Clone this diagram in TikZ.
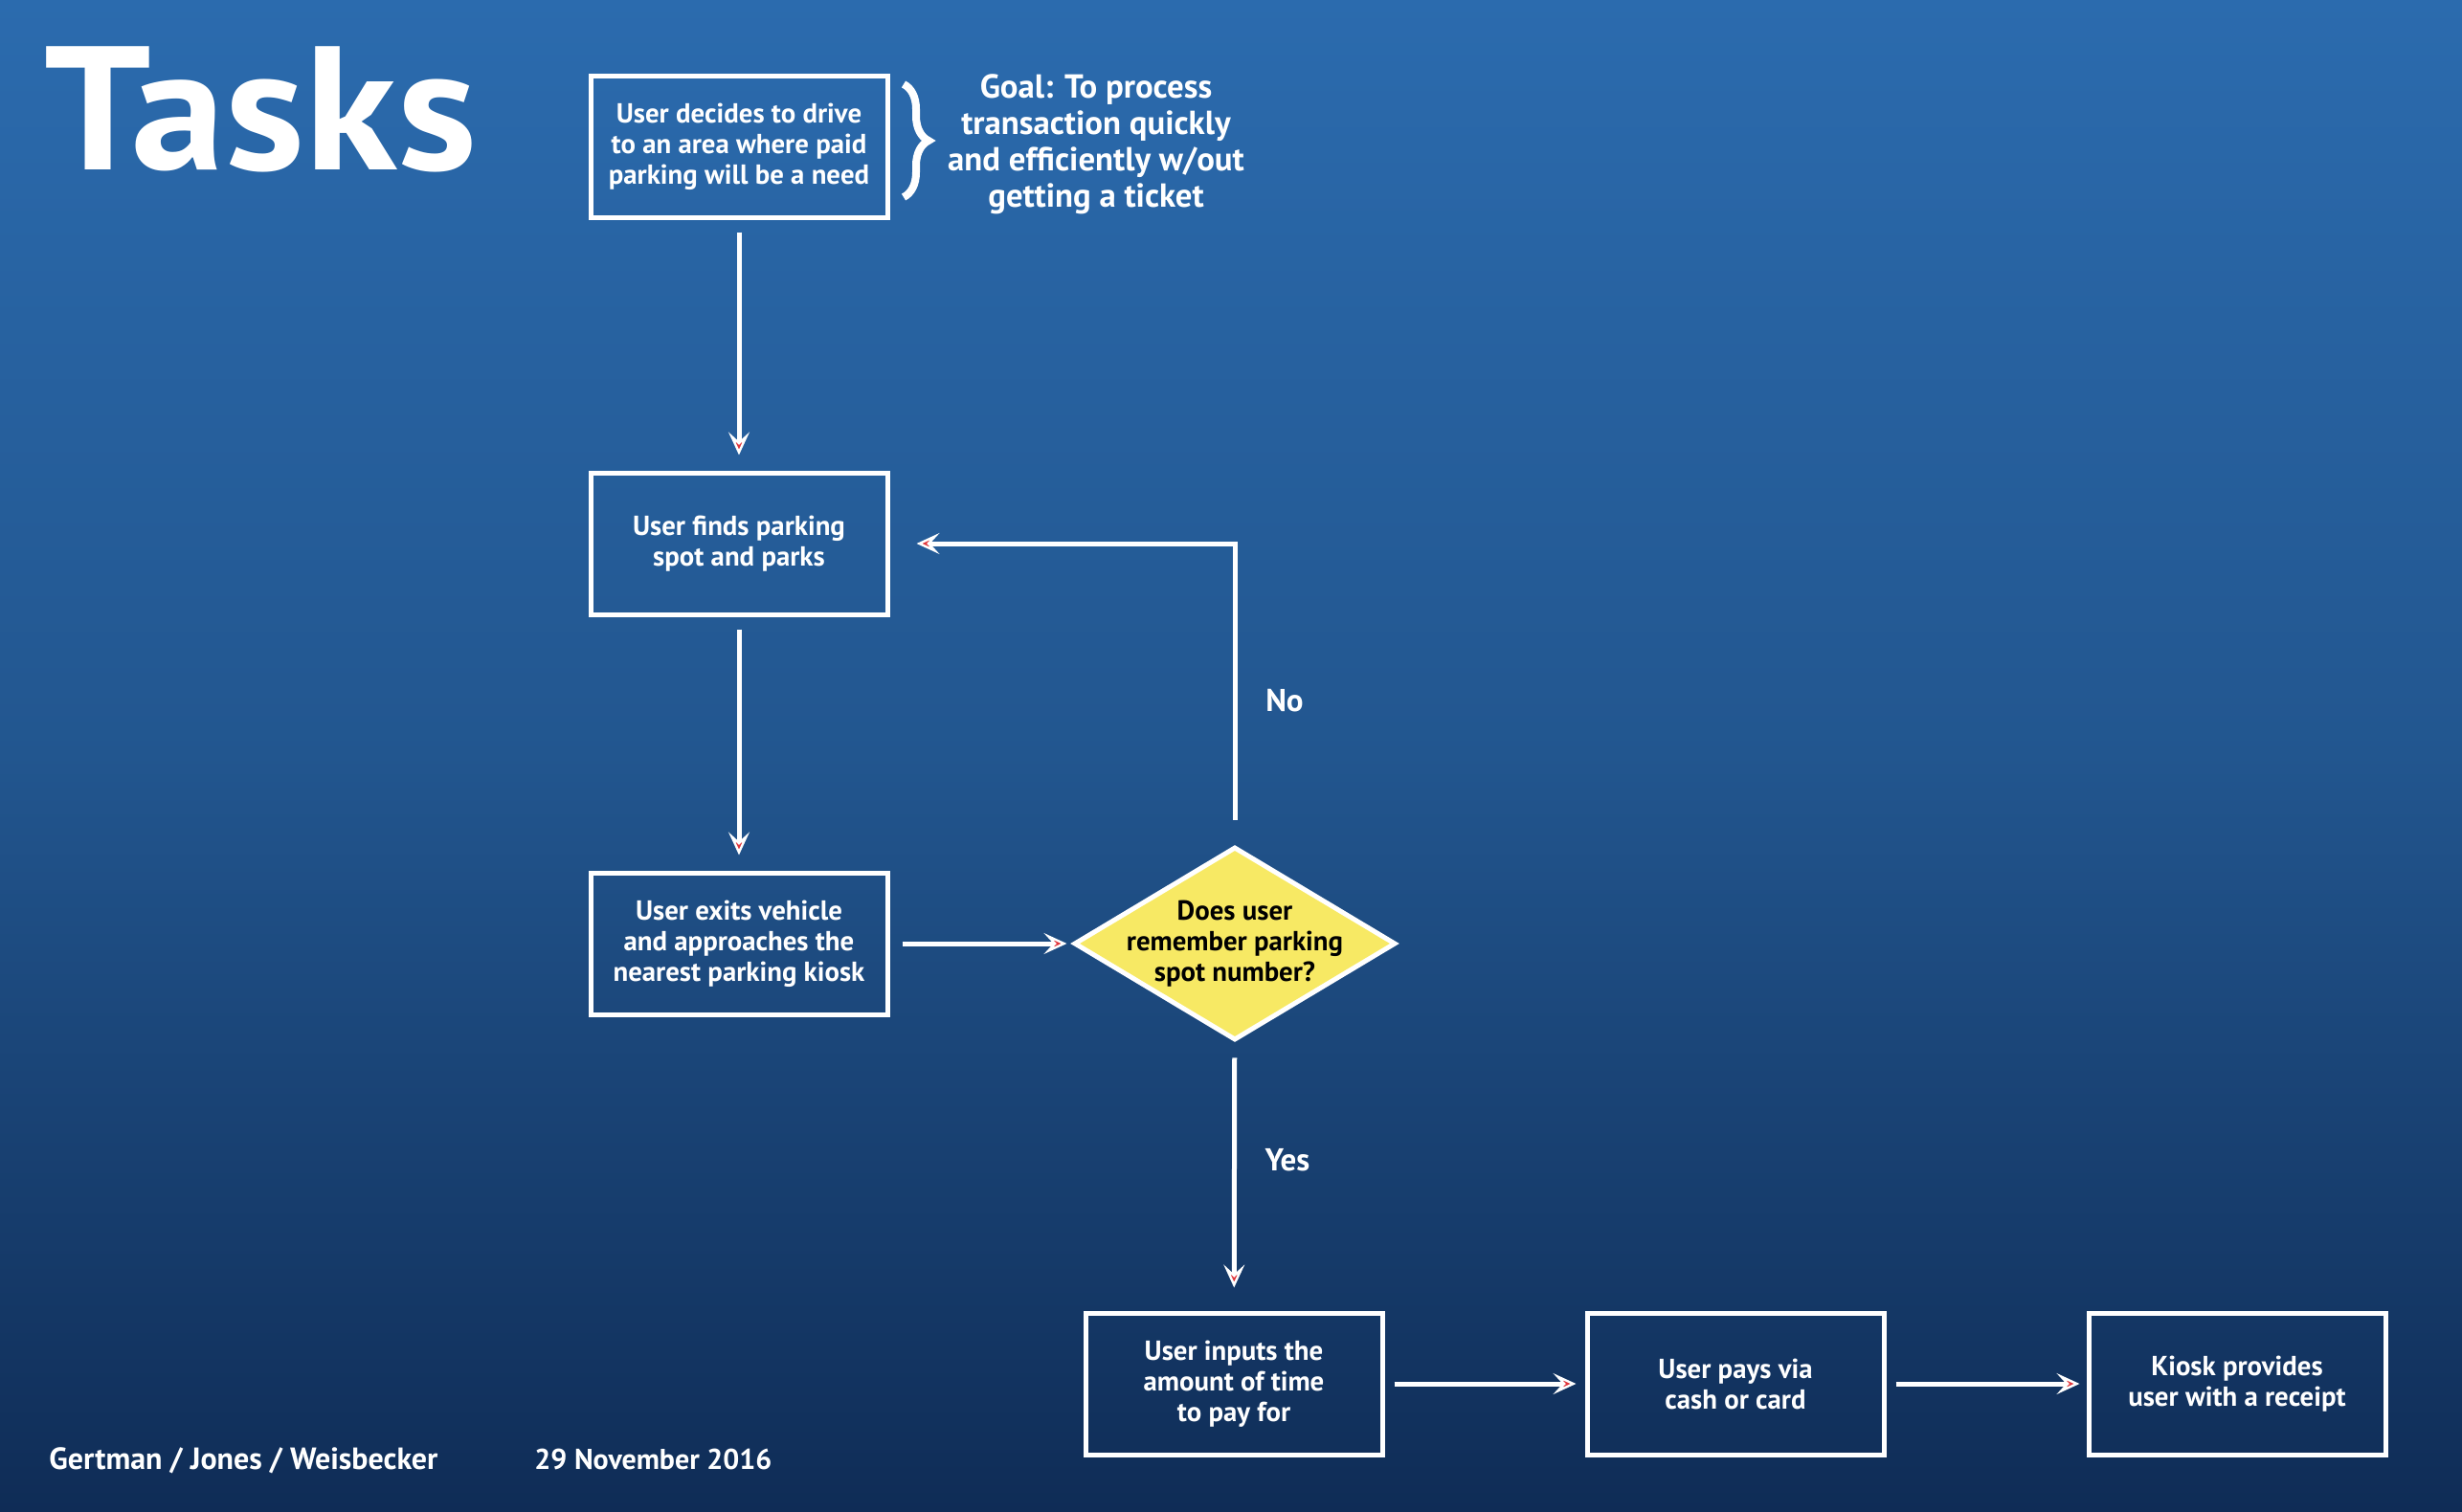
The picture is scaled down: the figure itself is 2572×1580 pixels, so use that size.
\documentclass[tikz,border=0pt]{standalone}
\usepackage{fontspec}
\setmainfont{PT Sans}
\usetikzlibrary{arrows.meta,shapes.geometric,decorations.pathreplacing}
\definecolor{bgtop}{RGB}{43,107,174}
\definecolor{bgmid}{RGB}{34,86,143}
\definecolor{bgbot}{RGB}{15,44,86}
\definecolor{dyellow}{RGB}{247,233,100}
\definecolor{tipred}{RGB}{225,55,60}
\begin{document}
\begin{tikzpicture}[x=0.5pt,y=-0.5pt,
 box/.style={draw=white, line width=2.5pt, minimum width=155pt, minimum height=74pt, align=center, text=white, font=\bfseries\fontsize{14.4}{16}\selectfont},
 arr/.style={draw=white, line width=2.5pt, -{Stealth[length=12pt,width=11pt,inset=5pt,color=white,fill=tipred,line width=1.2pt]}},
 lbl/.style={text=white, font=\bfseries\fontsize{16.5}{19}\selectfont},
 foot/.style={anchor=base west, text=white, inner sep=0pt},
]
\shade[top color=bgtop,bottom color=bgmid] (0,0) rectangle (2572,792);
\shade[top color=bgmid,bottom color=bgbot] (0,788) rectangle (2572,1580);
\useasboundingbox (0,0) rectangle (2572,1580);

\node[anchor=base west, text=white, inner sep=0pt, font=\bfseries\fontsize{92}{100}\selectfont] (title) at (46,177) {\scalebox{1.07}[1]{Tasks}};

\node[box] (b1) at (772,153) {User decides to drive\\to an area where paid\\parking will be a need};
\node[box] (b2) at (772,568) {User finds parking\\spot and parks};
\node[box] (b3) at (772,986) {User exits vehicle\\and approaches the\\nearest parking kiosk};
\node[diamond, draw=white, line width=2.5pt, fill=dyellow, minimum width=168pt, minimum height=101pt, inner sep=0pt] (d) at (1290,986) {};
\node[align=center, text=black, font=\bfseries\fontsize{14.4}{16}\selectfont] (dt) at (d.center) {Does user\\remember parking\\spot number?};
\node[box] (b4) at (1289,1446) {User inputs the\\amount of time\\to pay for};
\node[box] (b5) at (1813,1446) {User pays via\\cash or card};
\node[box] (b6) at (2337,1446) {Kiosk provides\\user with a receipt};

\node[lbl, align=center, font=\bfseries\fontsize{17.4}{19}\selectfont] (goal) at (1145,151) {Goal: To process\\transaction quickly\\and efficiently w/out\\getting a ticket};
\draw[white, line width=4pt, decorate, decoration={brace, amplitude=13pt}] (944,88) -- (944,206);

\draw[arr, shorten <=6.5pt, shorten >=8pt] (b1) -- (b2);
\draw[arr, shorten <=6.5pt, shorten >=8pt] (b2) -- (b3);
\draw[arr, shorten <=6.5pt, shorten >=2.5pt] (b3) -- (d);
\draw[arr, shorten <=8pt, shorten >=12pt] (d) -- (b4);
\draw[arr, shorten <=13pt, shorten >=14pt] (d.north) |- (b2.east);
\draw[arr, shorten <=5pt, shorten >=4.5pt] (b4) -- (b5);
\draw[arr, shorten <=5pt, shorten >=3.5pt] (b5) -- (b6);

\node[lbl] (no) at (1342,732) {No};
\node[lbl] (yes) at (1345,1212) {Yes};

\node[foot, font=\bfseries\fontsize{16}{18}\selectfont] (auth) at (51,1535) {Gertman / Jones / Weisbecker};
\node[foot, font=\bfseries\fontsize{15}{18}\selectfont] (date) at (558,1535) {29 November 2016};
\end{tikzpicture}
\end{document}
